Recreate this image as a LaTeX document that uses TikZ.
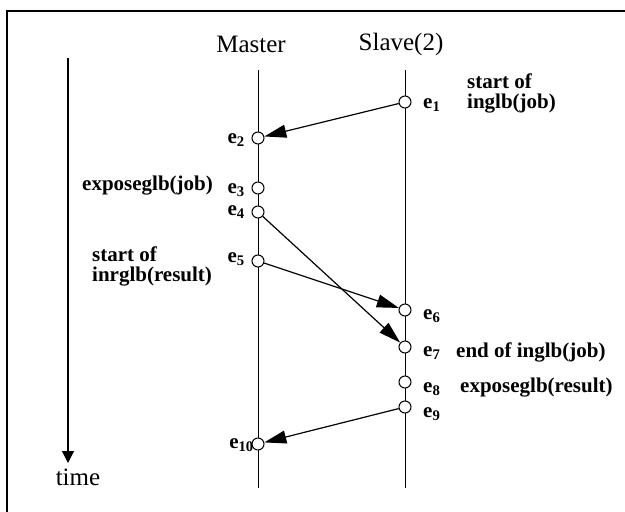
\documentclass[tikz,border=0pt]{standalone}
\usepackage{fontspec}
\setmainfont{Liberation Serif}
\usetikzlibrary{arrows.meta, positioning}

\tikzset{
  evt/.style={circle, draw, fill=white, inner sep=0pt, minimum size=12pt, line width=1pt},
  elbl/.style={font=\fontsize{21}{21}\selectfont\bfseries, inner sep=0pt},
  note/.style={font=\fontsize{21}{20}\selectfont\bfseries, align=left, inner sep=0pt},
  head/.style={font=\fontsize{25}{25}\selectfont, inner sep=0pt},
  msg/.style={-{Triangle[length=22pt,width=13pt]}, line width=1.2pt},
  life/.style={line width=1pt}
}

\begin{document}
\begin{tikzpicture}[x=1pt, y=-1pt]
    \useasboundingbox (0,0) rectangle (625,512);

    % Frame
    \draw[line width=1.3pt] (7,512) -- (7,11) -- (625,11);

    % Process names
    \node[head] (master) at (251,44) {Master};
    \node[head] (slave) at (401,44) {Slave(2)};

    % Time axis
    \coordinate (ttop) at (68,58);
    \coordinate (ttip) at (68,463);
    \node[head] (time) at (78,477) {time};
    \draw[-{Triangle[length=12pt,width=12pt]}, line width=1.1pt] (ttop) -- (ttip);

    % Life lines
    \coordinate (mtop) at (258,70);
    \coordinate (mbot) at (258,488);
    \coordinate (stop) at (405,70);
    \coordinate (sbot) at (405,488);
    \draw[life] (mtop) -- (mbot);
    \draw[life] (stop) -- (sbot);

    % Events
    \node[evt] (e1) at (405,102) {};
    \node[evt] (e2) at (258,138) {};
    \node[evt] (e3) at (258,188) {};
    \node[evt] (e4) at (258,212) {};
    \node[evt] (e5) at (258,261) {};
    \node[evt] (e6) at (405,310) {};
    \node[evt] (e7) at (405,347) {};
    \node[evt] (e8) at (405,382) {};
    \node[evt] (e9) at (405,407) {};
    \node[evt] (e10) at (258,444) {};

    % Event labels
    \node[elbl, anchor=west] (l1) at (423,105) {e\textsubscript{1}};
    \node[elbl, anchor=east] (l2) at (245,140) {e\textsubscript{2}};
    \node[elbl, anchor=east] (l3) at (245,190) {e\textsubscript{3}};
    \node[elbl, anchor=east] (l4) at (245,212) {e\textsubscript{4}};
    \node[elbl, anchor=east] (l5) at (245,259) {e\textsubscript{5}};
    \node[elbl, anchor=west] (l6) at (423,316) {e\textsubscript{6}};
    \node[elbl, anchor=west] (l7) at (423,353) {e\textsubscript{7}};
    \node[elbl, anchor=west] (l8) at (423,389) {e\textsubscript{8}};
    \node[elbl, anchor=west] (l9) at (423,414) {e\textsubscript{9}};
    \node[elbl, anchor=east] (l10) at (254,445) {e\textsubscript{10}};

    % Notes
    \node[note, anchor=west] (n1) at (467,93) {start of\\inglb(job)};
    \node[note, anchor=west] (n3) at (82,186) {exposeglb(job)};
    \node[note, anchor=west] (n5) at (92,266) {start of\\inrglb(result)};
    \node[note, anchor=west] (n7) at (456,352) {end of inglb(job)};
    \node[note, anchor=west] (n8) at (460,388) {exposeglb(result)};

    % Messages
    \draw[msg] (e1) -- (e2);
    \draw[msg] (e4) -- (e7);
    \draw[msg] (e5) -- (e6);
    \draw[msg] (e9) -- (e10);
\end{tikzpicture}
\end{document}
